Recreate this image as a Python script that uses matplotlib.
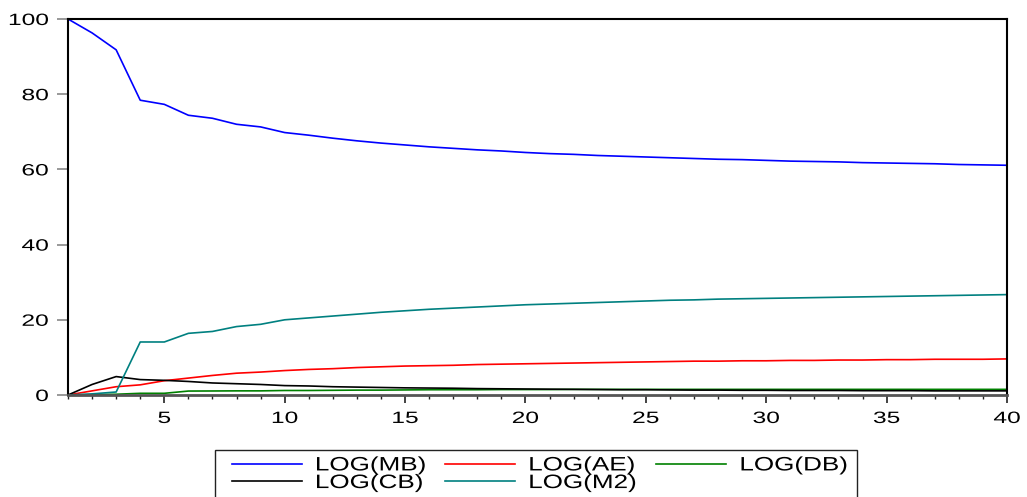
import numpy as np
import matplotlib
matplotlib.use("Agg")
import matplotlib.pyplot as plt
from matplotlib.ticker import MultipleLocator
from matplotlib.patheffects import AbstractPathEffect
from matplotlib.transforms import Affine2D
from matplotlib.patches import Rectangle

plt.rcParams['font.family'] = ['Liberation Sans', 'DejaVu Sans']

# periods 1..40, variance decomposition shares (%)
periods = np.arange(1, 41)

log_mb = [100.0, 96.3, 91.8, 78.4, 77.3, 74.4, 73.6, 72.0, 71.3, 69.8,
          69.1, 68.3, 67.6, 67.0, 66.5, 66.0, 65.6, 65.2, 64.9, 64.5,
          64.2, 64.0, 63.7, 63.5, 63.3, 63.1, 62.9, 62.7, 62.6, 62.4,
          62.2, 62.1, 62.0, 61.8, 61.7, 61.6, 61.5, 61.3, 61.2, 61.1]
log_ae = [0.0, 1.1, 2.2, 2.7, 3.8, 4.5, 5.2, 5.8, 6.1, 6.5,
          6.8, 7.0, 7.3, 7.5, 7.7, 7.8, 7.9, 8.1, 8.2, 8.3,
          8.4, 8.5, 8.6, 8.7, 8.8, 8.9, 9.0, 9.0, 9.1, 9.1,
          9.2, 9.2, 9.3, 9.3, 9.4, 9.4, 9.5, 9.5, 9.5, 9.6]
log_db = [0.0, 0.1, 0.2, 0.45, 0.45, 1.05, 1.07, 1.1, 1.1, 1.2,
          1.2, 1.25, 1.3, 1.3, 1.35, 1.4, 1.4, 1.4, 1.45, 1.45,
          1.45, 1.5, 1.5, 1.5, 1.5, 1.5, 1.5, 1.5, 1.5, 1.5,
          1.5, 1.5, 1.5, 1.5, 1.5, 1.5, 1.5, 1.5, 1.5, 1.5]
log_cb = [0.0, 2.8, 4.9, 4.1, 3.9, 3.6, 3.2, 3.0, 2.8, 2.5,
          2.4, 2.2, 2.1, 2.0, 1.9, 1.85, 1.8, 1.7, 1.65, 1.6,
          1.55, 1.5, 1.45, 1.4, 1.4, 1.35, 1.3, 1.3, 1.25, 1.25,
          1.2, 1.2, 1.2, 1.15, 1.15, 1.15, 1.1, 1.1, 1.1, 1.1]
log_m2 = [0.0, 0.3, 0.8, 14.1, 14.1, 16.4, 16.9, 18.2, 18.8, 20.0,
          20.5, 21.0, 21.5, 22.0, 22.4, 22.8, 23.1, 23.4, 23.7, 24.0,
          24.2, 24.4, 24.6, 24.8, 25.0, 25.2, 25.3, 25.5, 25.6, 25.7,
          25.8, 25.9, 26.0, 26.1, 26.2, 26.3, 26.4, 26.5, 26.6, 26.7]


class Stretch(AbstractPathEffect):
    """widen the glyphs horizontally (the source picture is stretched)"""
    def __init__(self, sx, anchor='left'):
        super().__init__()
        self.sx = sx
        self.anchor = anchor

    def draw_path(self, renderer, gc, tpath, affine, rgbFace=None):
        ext = tpath.get_extents()
        if self.anchor == 'right':
            x0 = ext.x1
        elif self.anchor == 'center':
            x0 = 0.5 * (ext.x0 + ext.x1)
        else:
            x0 = 0
        t = Affine2D().translate(-x0, 0).scale(self.sx, 1).translate(x0, 0) + affine
        renderer.draw_path(gc, tpath, t, rgbFace)


W, H = 1027, 497
fig = plt.figure(figsize=(W / 100, H / 100), dpi=100)
ax = fig.add_axes([68 / W, (H - 395) / H, 939 / W, 376 / H])

l_mb, = ax.plot(periods, log_mb, color='#0000ff', lw=1.2, label='LOG(MB)')
l_ae, = ax.plot(periods, log_ae, color='#ff0000', lw=1.2, label='LOG(AE)')
l_db, = ax.plot(periods, log_db, color='#008000', lw=1.2, label='LOG(DB)')
l_cb, = ax.plot(periods, log_cb, color='#000000', lw=1.2, label='LOG(CB)')
l_m2, = ax.plot(periods, log_m2, color='#008080', lw=1.2, label='LOG(M2)')

ax.set_xlim(1, 40)
ax.set_ylim(0, 100)
ax.set_yticks([0, 20, 40, 60, 80, 100])
ax.xaxis.set_minor_locator(MultipleLocator(1))
ax.set_xticks([5, 10, 15, 20, 25, 30, 35, 40])

for s in ['left', 'top', 'right']:
    ax.spines[s].set_color('black')
    ax.spines[s].set_linewidth(1.5)
ax.spines['bottom'].set_color('#555555')
ax.spines['bottom'].set_linewidth(2)

ax.tick_params(axis='y', direction='out', length=8, width=1.2, color='#888888',
               labelsize=11.8, pad=6)
ax.tick_params(axis='x', which='major', direction='out', length=6, width=1.2,
               color='#222222', labelsize=11.8, pad=5.5)
ax.tick_params(axis='x', which='minor', direction='out', length=3, width=1,
               color='#222222')

for lab in ax.get_yticklabels():
    lab.set_path_effects([Stretch(1.5, 'right')])
for lab in ax.get_xticklabels():
    lab.set_path_effects([Stretch(1.5, 'center')])

fs = 14
leg = fig.legend([l_mb, l_cb, l_ae, l_m2, l_db],
                 ['LOG(MB)', 'LOG(CB)', 'LOG(AE)', 'LOG(M2)', 'LOG(DB)'],
                 ncol=3, loc='upper left',
                 bbox_to_anchor=(226 / W, 1 - 451 / H),
                 frameon=False, fontsize=fs,
                 handlelength=3.6, handletextpad=0.67, columnspacing=2.4,
                 labelspacing=0.0, borderpad=0.3, borderaxespad=0)
for t in leg.get_texts():
    t.set_path_effects([Stretch(1.34, 'left')])

# legend box, its bottom runs off the picture like in the source
box = Rectangle((215 / W, -0.1), (857 - 215) / W, 1 - 450 / H + 0.1,
                transform=fig.transFigure, fill=False, ec='#222222', lw=1)
fig.add_artist(box)

fig.savefig('out.png', dpi=100)
